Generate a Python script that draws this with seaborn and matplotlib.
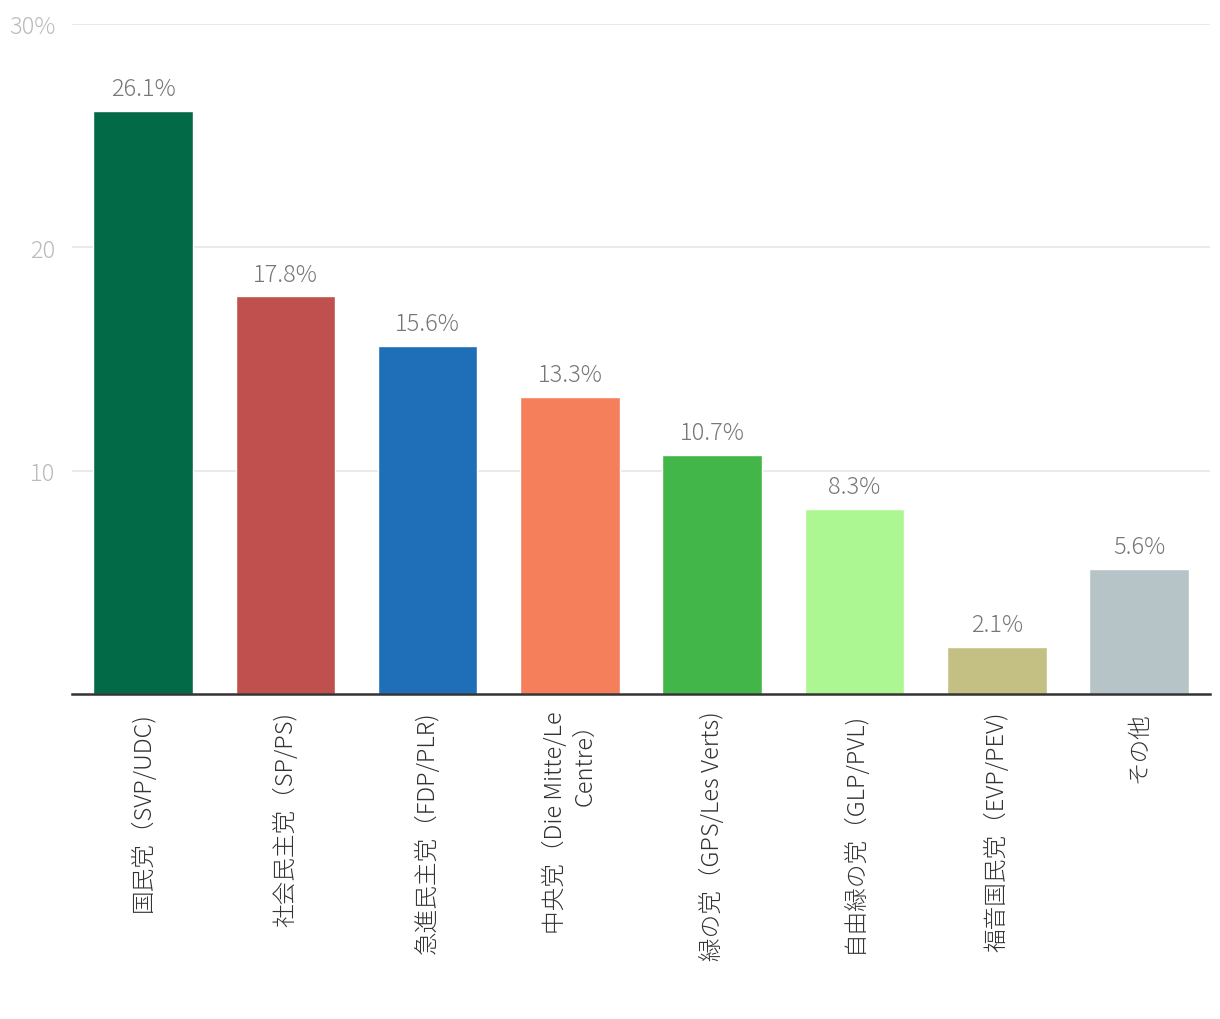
import seaborn as sns
import numpy as np
import pandas as pd
import matplotlib.pyplot as plt

parties = ["国民党（SVP/UDC)", "社会民主党（SP/PS)", "急進民主党（FDP/PLR)",
           "中央党（Die Mitte/Le\nCentre）", "緑の党（GPS/Les Verts)",
           "自由緑の党（GLP/PVL)", "福音国民党（EVP/PEV)", "その他"]
share = [26.1, 17.8, 15.6, 13.3, 10.7, 8.3, 2.1, 5.6]
colors = ["#026a46", "#c0504d", "#1f6fb8", "#f47f5a", "#43b649",
          "#adf793", "#c4bf83", "#b6c4c7"]
yticks = [10, 20, 30]
ytick_labels = ["10", "20", "30%"]

sns.set_style("white")
plt.rcParams['font.family'] = ['Noto Sans CJK JP', 'DejaVu Sans']

df = pd.DataFrame({"party": parties, "share": share})

fig = plt.figure(figsize=(12.2, 10.2), dpi=100)
ax = fig.add_axes([0.059, 0.3186, 0.933, 0.6569])

sns.barplot(data=df, x="party", y="share", hue="party", palette=colors,
            legend=False, width=0.7, saturation=1, ax=ax)

ax.set_ylim(0, 30)
ax.set_xlim(-0.5, len(parties) - 0.5)
ax.set_yticks(yticks)
ax.set_yticklabels(ytick_labels)
ax.yaxis.grid(True, color="#e6e6e6", linewidth=1.2)
ax.set_axisbelow(True)
ax.tick_params(axis="y", length=0, pad=12, labelsize=17, labelcolor="#bbbbbb")
ax.tick_params(axis="x", length=0, pad=12, labelsize=17, labelcolor="#333333")
for lbl in ax.get_xticklabels():
    lbl.set_rotation(90)
    lbl.set_va("top")
    lbl.set_ha("center")
    lbl.set_multialignment("right")
    lbl.set_fontweight("light")
for lbl in ax.get_yticklabels():
    lbl.set_fontweight("light")

for s in ["top", "right", "left"]:
    ax.spines[s].set_visible(False)
ax.spines["bottom"].set_color("#333333")
ax.spines["bottom"].set_linewidth(1.8)
ax.set_xlabel("")
ax.set_ylabel("")

for i, v in enumerate(share):
    ax.annotate(f"{v}%", (i, v), xytext=(0, 7), textcoords="offset points",
                ha="center", va="bottom", fontsize=17, color="#777777",
                fontweight="light")

fig.savefig("out.png", dpi=100)
